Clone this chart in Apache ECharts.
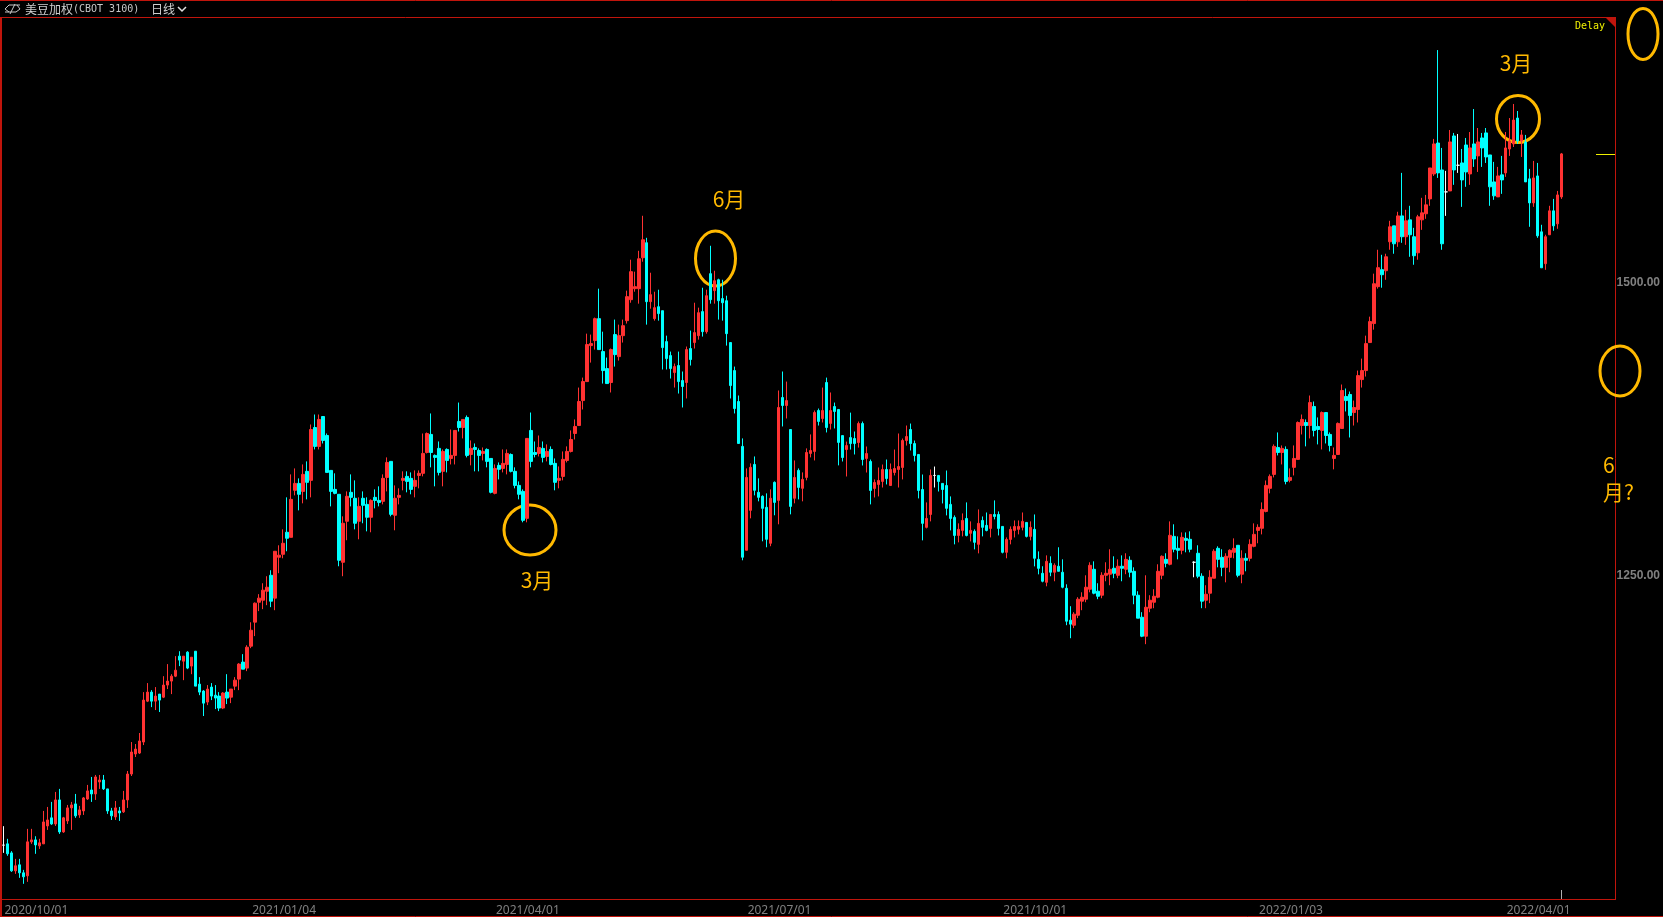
<!DOCTYPE html>
<html>
<head>
<meta charset="utf-8">
<title>美豆加权</title>
<style>
html,body{margin:0;padding:0;background:#000;}
#main{width:1663px;height:917px;}
</style>
<script src="https://cdn.jsdelivr.net/npm/echarts@6/dist/echarts.min.js"></script>
</head>
<body>
<div id="main"></div>
<script>
// daily bars, [open, close, low, high]
var bars2020q4 = [
[1019.8,1019.8,1013.2,1036],[1020.9,1012.4,1010.7,1025.2],[1013.2,997.9,997,1014.7],[997.9,1002.2,995.3,1008.1],[1003,996.2,991.9,1008.1],
[996.2,992.8,986.8,998.7],[993.6,1022.6,988.5,1033.7],[1022.6,1024.3,1020.9,1033.7],[1024.3,1020,1012.4,1027.4],[1019.2,1021.8,1016.6,1025.2],
[1020.9,1039.6,1020.9,1049],[1036.2,1041.3,1032.8,1052.4],[1043.1,1037.9,1037.1,1056.7],[1037.9,1058.4,1036.2,1065.2],[1058.4,1031.1,1029.4,1067.8],
[1031.1,1043.1,1030.3,1043.9],[1040.5,1051.6,1037.9,1054.1],[1051.6,1054.1,1032.8,1056.7],[1055,1044.8,1043.1,1063.5],[1045.6,1049.9,1043.1,1053.3],
[1049,1060.1,1045.6,1060.9],[1059.2,1066.1,1058.4,1071.2],[1066.9,1063.5,1056.7,1078],[1063.5,1078,1058.4,1079.7],[1073.7,1075.4,1067.8,1079.7],
[1075.4,1067.8,1066.9,1079.7],[1067.8,1049,1046.5,1067.8],[1049,1044.8,1041.3,1051.6],[1043.9,1051.6,1041.3,1057.5],[1049,1047.3,1040.5,1052.4],
[1048.2,1058.4,1047.3,1066.1],[1058.4,1080.5,1051.6,1083.1],[1080.5,1099.3,1078.8,1107.8],[1097.6,1101.8,1095,1106.1],[1098.4,1108.7,1097.6,1115.5],
[1107.8,1143.6,1105.2,1150.4],[1142.7,1150.4,1141.9,1158.1],[1150.4,1142.7,1137.6,1152.1],[1142.7,1147,1135.1,1154.7],[1148.7,1143.6,1133.4,1148.7],
[1146.1,1156.4,1145.3,1164],[1156.4,1159.8,1153,1174.3],[1159.8,1164,1148.7,1165.7],[1164,1169.1,1163.2,1181.1],[1181.1,1177.7,1172.6,1185.3],
[1176.8,1181.1,1160.6,1181.1],[1184.5,1170.9,1170,1185.3],[1172.6,1180.2,1165.7,1180.2],[1185.3,1155.5,1155.5,1185.3],[1157.2,1150.4,1147.8,1163.2],
[1151.3,1141,1130,1152.1],[1141.9,1153,1139.3,1156.4],[1154.7,1147,1143.6,1158.1],[1147.8,1145.3,1135.9,1156.4],[1147,1136.8,1134.2,1150.4],
[1136.8,1149.6,1135.9,1150.4],[1150.4,1145.3,1140.2,1165.7],[1146.1,1153,1141,1153],[1155.5,1160.6,1152.1,1163.2],[1161.5,1174.3,1152.1,1175.1],
[1176,1170,1170,1182.8],[1170.9,1188.7,1168.3,1190.4],[1189.6,1203.2,1187.9,1210],[1210.1,1226.3,1198.2,1226.9],[1227.1,1230.6,1219.5,1234]
];
var bars2021q1 = [
[1228.8,1237.4,1221.2,1243.3],[1236.5,1239.9,1224.6,1249.3],[1250.1,1228,1222.9,1254.4],[1230.6,1270.6,1220.3,1270.6],[1265.5,1267.2,1251.9,1275.7],
[1268,1277.4,1264.6,1289.3],[1286.8,1281.7,1270.6,1316.6],[1282.5,1314.9,1282.5,1336.2],[1322.6,1328.5,1318.3,1341.3],[1328.5,1319.2,1305.5,1332.8],
[1321.7,1336.2,1311.5,1344.7],[1338.8,1329.4,1314.9,1347.3],[1331.1,1374.5,1316.6,1378.8],[1376.2,1360.1,1357.5,1387.3],[1360.1,1383.1,1357.5,1387.3],
[1385.6,1365.2,1362.6,1385.6],[1369.4,1337.9,1337.9,1371.1],[1339.6,1321.7,1308.9,1339.6],[1323.4,1320,1319.2,1337.1],[1319.2,1262.9,1257.8,1319.2],
[1261.2,1294.5,1249.3,1300.4],[1296.2,1317.5,1280,1321.7],[1320.9,1316.6,1308.9,1336.2],[1315.8,1294.5,1289.3,1331.1],[1296.2,1308.9,1280.8,1316.6],
[1315.8,1309.8,1294.5,1321.7],[1310.6,1299.6,1287.6,1316.6],[1299.6,1314,1286.8,1314.9],[1316.6,1314,1307.2,1323.4],[1314,1312.3,1308.9,1326],
[1313.2,1332.8,1310.6,1336.2],[1333.6,1346.4,1321.7,1350.7],[1347.3,1302.1,1300.4,1347.3],[1301.3,1315.8,1288.5,1326.8],[1316.6,1318.3,1310.6,1324.3],
[1331.1,1332.8,1322.6,1338.8],[1334.5,1330.2,1320.9,1338.8],[1332.8,1323.4,1319.2,1337.9],[1326,1331.1,1316.6,1339.6],[1335.3,1337.1,1324.3,1339.6],
[1337.1,1354.1,1334.5,1371.1],[1354.9,1371.1,1354.1,1372],[1370.3,1354.9,1342.2,1388.2],[1352.4,1350.7,1326,1353.2],[1358.4,1337.9,1335.3,1364.3],
[1338.8,1355.8,1326,1357.5],[1357.5,1348.1,1337.9,1358.4],[1349.8,1352.4,1344.7,1374.5],[1352.4,1373.7,1344.7,1373.7],[1381.4,1376.2,1372.8,1397.5],
[1376.2,1383.1,1366.9,1383.1],[1384.8,1352.4,1350.7,1386.5],[1353.2,1358.4,1343.9,1365.2],[1359.2,1357.5,1338.8,1362.6],[1356.6,1352.4,1338.8,1358.4],
[1354.1,1355.8,1348.1,1359.2],[1357.5,1347.3,1342.2,1358.4],[1349.8,1320.9,1320,1349.8],[1320,1341.3,1319.2,1344.7],[1343.9,1340.5,1331.9,1346.4],
[1341.3,1345.6,1337.9,1357.5]
];
var bars2021q2 = [
[1344.7,1354.1,1336.2,1357.5],[1353.2,1338.8,1337.9,1354.1],[1338.8,1326.8,1324.3,1342.2],[1326.8,1319.2,1314.9,1330.2],[1321.7,1297,1295.3,1323.4],
[1298.7,1366.9,1295.3,1366.9],[1373.7,1347.3,1342.2,1389],[1354.9,1353.2,1350.7,1364.3],[1354.1,1359.2,1351.5,1369.4],[1358.4,1350.7,1346.4,1364.3],
[1351.5,1355.8,1347.3,1361.8],[1357.5,1344.7,1343.9,1360.1],[1345.6,1329.4,1322.6,1349.8],[1331.1,1332.8,1324.3,1343],[1334.5,1349,1331.1,1355.8],
[1348.1,1355.8,1346.4,1360.1],[1355.8,1366,1354.9,1373.7],[1371.1,1377.1,1366,1383.1],[1377.9,1398.4,1377.9,1410.3],[1399.2,1415.4,1391.6,1418.8],
[1415.4,1447,1415.4,1456.3],[1446.1,1447.8,1431.6,1455.5],[1450.4,1469.1,1442.7,1470],[1469.1,1442.7,1442.7,1494.7],[1441,1424.8,1413.7,1458],
[1426.5,1413.7,1413.7,1435.9],[1414.6,1442.7,1406.1,1443.6],[1455.5,1438.4,1428.2,1468.3],[1436.7,1454.6,1433.3,1464],[1454.6,1463.1,1448.7,1468.3],
[1467.4,1487.9,1464.9,1493],[1485.3,1509.2,1482.7,1519.4],[1494.7,1496.4,1492.1,1509.2],[1494.7,1520.2,1481.9,1527],[1521.1,1536.4,1517.7,1556.9],
[1533.9,1483.6,1464,1538.1],[1483.6,1489.6,1477.6,1508.3],[1469.1,1478.5,1467.4,1492.1],[1479.3,1473.4,1467.4,1493.8],[1475.9,1444.4,1425.7,1475.9],
[1449.5,1435,1425.7,1454.6],[1437.6,1426.5,1418,1441],[1423.1,1428.2,1410.3,1430.8],[1429.1,1415.4,1405.2,1441],[1416.3,1411.2,1393.3,1424],
[1414.6,1442.7,1401,1445.3],[1443.6,1434.2,1429.1,1458.9],[1448.7,1457.2,1443.6,1482.7],[1454.6,1474.2,1451.2,1478.5],[1475.1,1458,1453.8,1495.5],
[1458,1488.7,1456.3,1493.8],[1507.5,1485.3,1481.9,1531.3],[1493,1501.5,1481.9,1510],[1502.3,1484.4,1468.3,1503.2],[1486.2,1482.7,1467.4,1502.3],
[1484.4,1456.3,1446.1,1488.7],[1448.7,1412,1401,1448.7],[1424.8,1392.4,1388.2,1428.2],[1398.4,1362.6,1362.6,1403.5],[1360.1,1265.5,1262.9,1366.9],
[1271.4,1333.6,1271.4,1341.3],[1305.5,1342.2,1298.7,1345.6],[1344.7,1322.6,1318.3,1351.5]
];
var bars2021q3 = [
[1320.9,1316.6,1313.2,1332.8],[1317.5,1307.2,1279.1,1318.3],[1308.1,1280.8,1274,1320],[1277.4,1315.8,1274.9,1323.4],[1329.4,1312.3,1301.3,1330.2],
[1314,1393.3,1293.6,1407.8],[1401.8,1395,1377.1,1424],[1395,1399.2,1383.9,1415.4],[1374.5,1308.9,1302.1,1374.5],[1315.8,1333.6,1311.5,1348.1],
[1339.6,1325.1,1314.9,1341.3],[1324.3,1331.9,1313.2,1337.9],[1333.6,1354.9,1331.1,1358.4],[1354.1,1356.6,1350.7,1370.3],[1355.8,1389,1348.1,1390.7],
[1390.7,1381.4,1377.9,1392.4],[1383.9,1390.7,1380.5,1410.3],[1414.6,1376.2,1372,1418.8],[1379.7,1390.7,1374.5,1406.1],[1394.1,1389.9,1375.4,1397.5],
[1391.6,1363.5,1343.9,1391.6],[1369.3,1350.6,1347.2,1369.3],[1357.4,1360.8,1334.4,1364.2],[1367.6,1362.5,1357.4,1388.9],[1366.8,1362.5,1353.2,1372.8],
[1363.4,1379.6,1359.1,1381.3],[1379.6,1348.9,1343.8,1381.3],[1349.8,1354,1337.8,1360],[1347.2,1322.5,1310.6,1348.9],[1324.2,1329.3,1316.5,1331.9],
[1327.6,1331,1317.4,1342.1],[1330.2,1340.4,1325,1344.6],[1340.4,1332.7,1327.6,1348.9],[1326.7,1340.4,1326.7,1345.5],[1337.8,1341.2,1335.3,1357.4],
[1340.4,1342.9,1325,1371.1],[1342.1,1365.1,1331.9,1366.8],[1365.1,1368.5,1360.8,1377.9],[1374.5,1362.5,1356.6,1379.6],[1362.5,1352.3,1347.2,1365.1],
[1353.2,1322.5,1315.7,1353.2],[1323.3,1294.4,1279.9,1336.1],[1291,1298.6,1290.1,1312.3],[1302,1335.3,1296.1,1340.4],[1335.3,1335.3,1325,1342.9],
[1335.3,1330.2,1321.6,1335.3],[1328.5,1323.3,1311.4,1328.5],[1326.7,1307.2,1301.2,1339.5],[1310.6,1298.6,1288.4,1317.4],[1299.5,1284.1,1276.5,1301.2],
[1284.1,1289.3,1278.2,1294.4],[1288.4,1296.9,1283.3,1302.9],[1298.6,1284.1,1283.3,1312.3],[1285.9,1288.4,1279,1296.1],[1287.6,1278.2,1272.2,1289.3],
[1276.5,1294.4,1268.8,1306.3],[1296.9,1291,1283.3,1300.3],[1292.7,1288.4,1287.6,1303.7],[1290.1,1302,1282.4,1302],[1302,1300.3,1297.8,1314],
[1302,1290.1,1284.1,1304.6],[1291.8,1269.7,1268.8,1291.8],[1269.7,1280.7,1264.6,1282.4],[1280.7,1289.3,1276.5,1291.8]
];
var bars2021q4 = [
[1288.4,1291.8,1282.4,1296.9],[1289.3,1291.8,1285,1296.9],[1291,1296.1,1288.4,1303.7],[1295.2,1283.3,1282.4,1295.2],[1283.3,1291,1279.9,1296.1],
[1289.3,1264.6,1257.7,1302],[1263.7,1256,1250.9,1270.5],[1251.8,1245,1244.1,1257.8],[1244.1,1262,1240.7,1267.1],[1260.3,1252.7,1249.3,1266.3],
[1252.7,1258.6,1245,1260.3],[1257.8,1253.5,1253.5,1274],[1252.7,1239.9,1239,1263.7],[1239,1210.9,1207.5,1242.4],[1211.8,1208.4,1196.4,1223.7],
[1207.5,1216.9,1205,1218.6],[1216,1229.7,1213.5,1231.4],[1228,1231.4,1220.3,1235.6],[1229.7,1239.9,1227.1,1250.1],[1238.2,1258.6,1235.6,1261.2],
[1255.2,1234.8,1233.9,1262],[1236.5,1232.2,1229.7,1243.3],[1233.1,1250.1,1230.5,1252.7],[1250.1,1251.8,1245,1261.2],[1251,1255.2,1241.6,1272.3],
[1256.1,1251.8,1247.6,1266.3],[1250.1,1257.8,1247.6,1263.7],[1257.8,1256.1,1245,1267.1],[1255.2,1263.7,1251,1268.9],[1262.9,1252.7,1248.4,1266.3],
[1253.5,1233.1,1225.4,1256.9],[1233.1,1213.5,1213.5,1236.5],[1214.3,1198.1,1197.3,1218.6],[1198.1,1222.8,1191.3,1250.1],[1222,1228.8,1218.6,1233.1],
[1227.1,1232.2,1222,1238.2],[1231.4,1253.5,1230.5,1259.5],[1250.1,1266.3,1246.7,1267.1],[1263.7,1260.3,1256.9,1268.9],[1259.5,1284.2,1258.6,1296.1],
[1283.3,1272.3,1269.7,1293.6],[1273.1,1271.4,1263.7,1283.3],[1271.4,1282.5,1268,1286.7],[1281.6,1279.9,1269.7,1286.7],[1280.8,1272.3,1269.7,1287.6],
[1261.2,1261.2,1248.4,1262],[1268.9,1249.3,1247.6,1275.7],[1249.3,1228,1222,1251.8],[1228.8,1233.9,1222,1241.6],[1234.8,1248.4,1226.3,1254.4],
[1247.6,1270.6,1247.6,1272.3],[1273.1,1263.7,1256.9,1274.8],[1265.4,1256.9,1249.3,1272.3],[1256.9,1266.3,1244.1,1268.9],[1265.4,1271.4,1252.7,1272.3],
[1269.7,1273.1,1264.6,1281.6],[1275.7,1250.1,1248.4,1275.7],[1251,1264.6,1243.3,1271.4],[1264.6,1262.9,1253.5,1268.9],[1264.6,1276.5,1262,1280.8],
[1274.8,1285,1274,1294.4],[1288.4,1291,1277.4,1293.6],[1290.2,1306.3,1285,1312.3],[1304.6,1326.8,1303.8,1331]
];
var bars2022 = [
[1324.3,1334.5,1320,1336.2],[1336.2,1360.1,1333.6,1361.8],[1359.2,1354.9,1352.4,1372],[1354.9,1358.4,1344.7,1360.9],[1357.5,1330.2,1327.7,1360.1],
[1331.1,1333.6,1329.4,1341.3],[1342.2,1349.8,1335.3,1360.9],[1349,1380.5,1349,1381.4],[1377.9,1383.1,1370.3,1387.3],[1380.5,1377.9,1360.1,1383.1],
[1377.9,1397.5,1366.9,1403.5],[1394.1,1373.7,1368.6,1398.4],[1377.1,1374.5,1361.8,1384.8],[1373.7,1389,1357.5,1389.9],[1389,1369.4,1362.6,1389],
[1370.3,1360.9,1355.8,1372],[1349.8,1352.4,1340.5,1359.2],[1353.2,1379.7,1353.2,1380.5],[1375.4,1407.8,1375.4,1412.9],[1402.7,1399.2,1389.9,1409.5],
[1404.4,1386.5,1367.7,1406.9],[1389,1393.3,1377.9,1399.2],[1391.6,1420.5,1380.5,1424.8],[1417.1,1424.8,1410.3,1435],[1424.8,1447.8,1419.7,1454.6],
[1448.7,1466.6,1448.7,1470.8],[1464.9,1498.9,1459.7,1507.5],[1496.4,1512.6,1494.7,1527.9],[1510.9,1506.6,1495.5,1523.6],[1510,1521.9,1502.3,1524.5],
[1534.7,1547.5,1527.9,1552.6],[1548.3,1533,1524.5,1548.3],[1534.7,1556.8,1530.4,1560.3],[1556.8,1539,1533.8,1593.5],[1539,1552.6,1532.1,1562],
[1553.4,1540.7,1521.9,1565.4],[1539,1522.8,1515.1,1546.6],[1525.3,1556,1519.4,1557.7],[1553.4,1559.4,1544.9,1572.2],[1558.6,1566.2,1554.3,1574.7],
[1571.3,1597.7,1565.4,1597.7],[1592.6,1618.2,1590.9,1622.5],[1619,1593.5,1589.2,1698.3],[1596,1533,1527.9,1614.8],[1577.3,1577.3,1556.8,1595.2],
[1578.1,1619.9,1578.1,1630.1],[1625,1596,1583.3,1627.6],[1600,1600,1593.5,1626.7],[1602,1587.5,1564.5,1613.9],[1617.3,1594.3,1581.6,1623.3],
[1592.6,1614.8,1583.3,1628.4],[1618.2,1605.4,1598.6,1648],[1608,1619.9,1594.3,1631.8],[1623.3,1614.8,1598.6,1627.6],[1627.6,1607.1,1602,1631.8],
[1608.8,1581.6,1565.4,1608.8],[1585.8,1573.9,1570.5,1602.9],[1573,1590.9,1573,1598.6],[1591.8,1587.5,1575.6,1608],[1593.5,1614.8,1590.1,1628.4],
[1613.9,1620.7,1608,1640.3],[1618.2,1638.6,1615.6,1652.3],[1640.3,1620.7,1618.2,1646.3],[1620.7,1625.9,1607.1,1630.1],[1619.9,1585.8,1585.8,1625.9],
[1588.4,1567.9,1547.5,1596.9],[1567.9,1589.2,1564.5,1603.7],[1590.9,1539.8,1538.1,1602],[1543.2,1512.5,1512.5,1549.2],[1516,1539,1510.8,1540.7],
[1540.7,1561.1,1540.7,1565.4],[1561.1,1548.3,1544.1,1571.3],[1550,1574.7,1545.8,1578.1],[1573,1609.7,1571.3,1610.5]
];
var tickIndex = [0, 62, 123, 186, 250, 314, 376];
var tickDates = ['2020/10/01', '2021/01/04', '2021/04/01', '2021/07/01', '2021/10/01', '2022/01/03', '2022/04/01'];
var priceTicks = [1250, 1500];
var emptySlots = 12; // room to the right of the last bar

var bars = [].concat(bars2020q4, bars2021q1, bars2021q2, bars2021q3, bars2021q4, bars2022);
var categories = [];
for (var i = 0; i < bars.length + emptySlots; i++) {
	var k = tickIndex.indexOf(i);
	categories.push(k >= 0 ? tickDates[k] : 'd' + i);
}

var red = '#c0150c';
var gold = '#ffb900';

function hline(x1, x2, y, color) {
	return {type: 'line', silent: true, shape: {x1: x1, y1: y, x2: x2, y2: y}, style: {stroke: color || red, lineWidth: 1}};
}
function vline(x, y1, y2, color) {
	return {type: 'line', silent: true, shape: {x1: x, y1: y1, x2: x, y2: y2}, style: {stroke: color || red, lineWidth: 1}};
}
function ring(cx, cy, rx, ry) {
	return {type: 'ellipse', silent: true, shape: {cx: cx, cy: cy, rx: rx, ry: ry}, style: {fill: 'none', stroke: gold, lineWidth: 3}};
}
function label(x, y, text, font, color, align) {
	return {type: 'text', silent: true, style: {x: x, y: y, text: text, font: font, fill: color, textAlign: align || 'left', textVerticalAlign: 'middle'}};
}
var noteFont = '21px "Noto Sans CJK SC"';
var headFont = '12px "Noto Sans CJK SC"';
var monoFont = '10px "DejaVu Sans Mono"';

var chart = echarts.init(document.getElementById('main'), null, {renderer: 'canvas'});
var option = {
	backgroundColor: '#000',
	animation: false,
	grid: {left: 1.5, top: 17.5, width: 1612, height: 881.5, containLabel: false},
	xAxis: {
		type: 'category',
		data: categories,
		boundaryGap: true,
		axisLine: {show: false},
		axisTick: {show: false},
		splitLine: {show: false},
		axisLabel: {
			interval: function (idx) { return tickIndex.indexOf(idx) >= 0; },
			align: 'left',
			margin: 7,
			padding: [0, 0, 0, 1],
			color: '#808080',
			fontFamily: '"Noto Sans"',
			fontSize: 12
		}
	},
	yAxis: {
		type: 'value',
		position: 'right',
		min: 974.7,
		max: 1726.1,
		axisLine: {show: false},
		axisTick: {show: false},
		splitLine: {show: false},
		axisLabel: {
			customValues: priceTicks,
			margin: 5,
			padding: [2, 0, 0, 0],
			color: '#808080',
			fontFamily: '"Liberation Sans"',
			fontWeight: 'bold',
			fontSize: 12,
			formatter: function (v) { return v.toFixed(2); }
		}
	},
	series: [{
		type: 'candlestick',
		data: bars,
		barWidth: 3,
		itemStyle: {
			color: '#ff3232',
			color0: '#00ffff',
			borderColor: '#ff3232',
			borderColor0: '#00ffff',
			borderColorDoji: '#ffffff',
			borderWidth: 1
		}
	}],
	graphic: {elements: [
		// frame
		hline(0, 1663, 0.5),
		hline(2, 1616, 17.5),
		hline(0, 1616, 899.5),
		hline(0, 1663, 916.5),
		{type: 'rect', silent: true, shape: {x: 0, y: 17, width: 2, height: 900}, style: {fill: red}},
		vline(1615.5, 17, 900),
		{type: 'polygon', silent: true, shape: {points: [[1606, 18], [1615, 18], [1615, 27]]}, style: {fill: red}},
		hline(1596, 1615, 154.5, '#f0f000'),
		vline(1561.5, 890, 899, '#b0b0b0'),
		// header
		{type: 'polyline', silent: true, shape: {points: [[9, 5], [5, 9], [9, 12]]}, style: {stroke: '#c8c8c8', fill: 'none', lineWidth: 1}},
		{type: 'polyline', silent: true, shape: {points: [[9, 5], [20, 5]]}, style: {stroke: '#c8c8c8', lineWidth: 1}},
		{type: 'polyline', silent: true, shape: {points: [[5, 12], [16, 12], [20, 9], [17, 5]]}, style: {stroke: '#c8c8c8', fill: 'none', lineWidth: 1}},
		{type: 'polyline', silent: true, shape: {points: [[10, 14], [15, 4]]}, style: {stroke: '#c8c8c8', lineWidth: 1}},
		label(25, 9, '美豆加权', headFont, '#d0d0d0'),
		label(73, 9, '(CBOT 3100)', monoFont, '#c8c8c8'),
		label(151, 9, '日线', headFont, '#d0d0d0'),
		{type: 'polyline', silent: true, shape: {points: [[178, 7], [182, 11], [186, 7]]}, style: {stroke: '#e0e0e0', fill: 'none', lineWidth: 1.5}},
		label(1575, 26, 'Delay', monoFont, '#f0f000'),
		// hand drawn notes
		ring(1643, 34, 15, 25.5),
		ring(1518, 119, 21.5, 23.5),
		ring(530, 530, 26, 25),
		ring(715.5, 258.5, 20, 27.5),
		ring(1620, 371, 20, 25),
		label(1516, 63, '3月', noteFont, gold, 'center'),
		label(729, 199, '6月', noteFont, gold, 'center'),
		label(537, 580, '3月', noteFont, gold, 'center'),
		label(1603, 465, '6', noteFont, gold),
		label(1603, 492, '月?', noteFont, gold)
	]}
};
chart.setOption(option);
</script>
</body>
</html>
